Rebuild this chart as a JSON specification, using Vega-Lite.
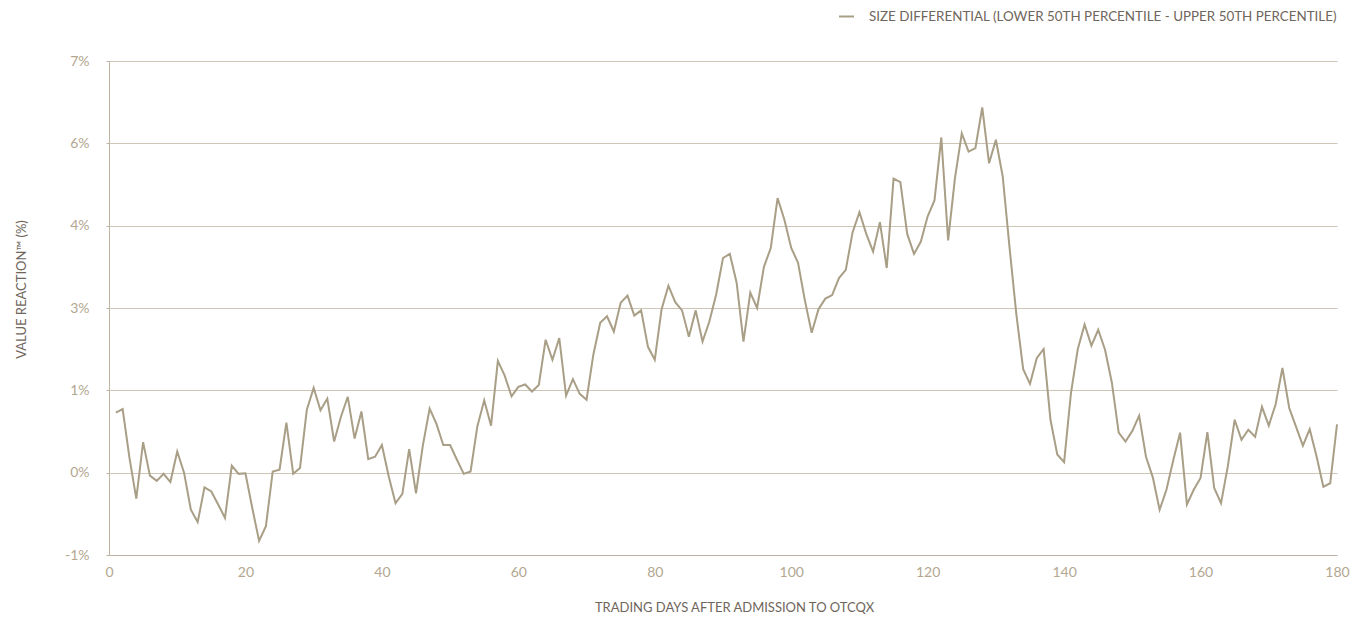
{
  "$schema": "https://vega.github.io/schema/vega-lite/v6.json",
  "width": 1228,
  "height": 494,
  "autosize": {"type": "none"},
  "padding": {"left": 109, "top": 61, "right": 22, "bottom": 64},
  "background": "#ffffff",
  "config": {
    "view": {"stroke": null},
    "font": "Lato",
    "axis": {
      "labelFont": "Lato",
      "titleFont": "Lato",
      "labelColor": "#b3a790",
      "titleColor": "#6f665c",
      "domainColor": "#bdb3a0",
      "gridColor": "#cdc5b5",
      "tickColor": "#bdb3a0",
      "titleFontWeight": "normal"
    }
  },
  "data": {
    "values": [
      {"day": 1, "v": 1.02}, {"day": 2, "v": 1.08}, {"day": 3, "v": 0.25}, {"day": 4, "v": -0.44}, {"day": 5, "v": 0.52},
      {"day": 6, "v": -0.05}, {"day": 7, "v": -0.14}, {"day": 8, "v": -0.02}, {"day": 9, "v": -0.16}, {"day": 10, "v": 0.36},
      {"day": 11, "v": 0.0}, {"day": 12, "v": -0.63}, {"day": 13, "v": -0.84}, {"day": 14, "v": -0.25}, {"day": 15, "v": -0.32},
      {"day": 16, "v": -0.54}, {"day": 17, "v": -0.77}, {"day": 18, "v": 0.12}, {"day": 19, "v": -0.02}, {"day": 20, "v": -0.01},
      {"day": 21, "v": -0.6}, {"day": 22, "v": -1.16}, {"day": 23, "v": -0.91}, {"day": 24, "v": 0.02}, {"day": 25, "v": 0.05},
      {"day": 26, "v": 0.85}, {"day": 27, "v": -0.02}, {"day": 28, "v": 0.08}, {"day": 29, "v": 1.07}, {"day": 30, "v": 1.44},
      {"day": 31, "v": 1.06}, {"day": 32, "v": 1.26}, {"day": 33, "v": 0.53}, {"day": 34, "v": 0.95}, {"day": 35, "v": 1.29},
      {"day": 36, "v": 0.58}, {"day": 37, "v": 1.04}, {"day": 38, "v": 0.23}, {"day": 39, "v": 0.27}, {"day": 40, "v": 0.47},
      {"day": 41, "v": -0.06}, {"day": 42, "v": -0.52}, {"day": 43, "v": -0.36}, {"day": 44, "v": 0.4}, {"day": 45, "v": -0.35},
      {"day": 46, "v": 0.46}, {"day": 47, "v": 1.09}, {"day": 48, "v": 0.83}, {"day": 49, "v": 0.47}, {"day": 50, "v": 0.47},
      {"day": 51, "v": 0.22}, {"day": 52, "v": -0.02}, {"day": 53, "v": 0.02}, {"day": 54, "v": 0.79}, {"day": 55, "v": 1.23},
      {"day": 56, "v": 0.8}, {"day": 57, "v": 1.9}, {"day": 58, "v": 1.65}, {"day": 59, "v": 1.3}, {"day": 60, "v": 1.46},
      {"day": 61, "v": 1.5}, {"day": 62, "v": 1.38}, {"day": 63, "v": 1.49}, {"day": 64, "v": 2.26}, {"day": 65, "v": 1.92},
      {"day": 66, "v": 2.29}, {"day": 67, "v": 1.31}, {"day": 68, "v": 1.59}, {"day": 69, "v": 1.34}, {"day": 70, "v": 1.24},
      {"day": 71, "v": 2.01}, {"day": 72, "v": 2.55}, {"day": 73, "v": 2.66}, {"day": 74, "v": 2.4}, {"day": 75, "v": 2.89},
      {"day": 76, "v": 3.01}, {"day": 77, "v": 2.67}, {"day": 78, "v": 2.76}, {"day": 79, "v": 2.14}, {"day": 80, "v": 1.92},
      {"day": 81, "v": 2.78}, {"day": 82, "v": 3.18}, {"day": 83, "v": 2.9}, {"day": 84, "v": 2.76}, {"day": 85, "v": 2.31},
      {"day": 86, "v": 2.76}, {"day": 87, "v": 2.23}, {"day": 88, "v": 2.57}, {"day": 89, "v": 3.03}, {"day": 90, "v": 3.65},
      {"day": 91, "v": 3.72}, {"day": 92, "v": 3.23}, {"day": 93, "v": 2.23}, {"day": 94, "v": 3.06}, {"day": 95, "v": 2.8},
      {"day": 96, "v": 3.5}, {"day": 97, "v": 3.82}, {"day": 98, "v": 4.67}, {"day": 99, "v": 4.3}, {"day": 100, "v": 3.82},
      {"day": 101, "v": 3.57}, {"day": 102, "v": 2.93}, {"day": 103, "v": 2.38}, {"day": 104, "v": 2.78}, {"day": 105, "v": 2.96},
      {"day": 106, "v": 3.02}, {"day": 107, "v": 3.31}, {"day": 108, "v": 3.45}, {"day": 109, "v": 4.09}, {"day": 110, "v": 4.43},
      {"day": 111, "v": 4.06}, {"day": 112, "v": 3.76}, {"day": 113, "v": 4.26}, {"day": 114, "v": 3.48}, {"day": 115, "v": 5.0},
      {"day": 116, "v": 4.94}, {"day": 117, "v": 4.06}, {"day": 118, "v": 3.72}, {"day": 119, "v": 3.93}, {"day": 120, "v": 4.36},
      {"day": 121, "v": 4.63}, {"day": 122, "v": 5.7}, {"day": 123, "v": 3.95}, {"day": 124, "v": 5.01}, {"day": 125, "v": 5.77},
      {"day": 126, "v": 5.46}, {"day": 127, "v": 5.52}, {"day": 128, "v": 6.21}, {"day": 129, "v": 5.26}, {"day": 130, "v": 5.66},
      {"day": 131, "v": 5.04}, {"day": 132, "v": 3.83}, {"day": 133, "v": 2.69}, {"day": 134, "v": 1.76}, {"day": 135, "v": 1.51},
      {"day": 136, "v": 1.95}, {"day": 137, "v": 2.1}, {"day": 138, "v": 0.9}, {"day": 139, "v": 0.31}, {"day": 140, "v": 0.18},
      {"day": 141, "v": 1.35}, {"day": 142, "v": 2.1}, {"day": 143, "v": 2.52}, {"day": 144, "v": 2.16}, {"day": 145, "v": 2.43},
      {"day": 146, "v": 2.09}, {"day": 147, "v": 1.53}, {"day": 148, "v": 0.68}, {"day": 149, "v": 0.53}, {"day": 150, "v": 0.71},
      {"day": 151, "v": 0.97}, {"day": 152, "v": 0.27}, {"day": 153, "v": -0.08}, {"day": 154, "v": -0.63}, {"day": 155, "v": -0.29},
      {"day": 156, "v": 0.21}, {"day": 157, "v": 0.68}, {"day": 158, "v": -0.54}, {"day": 159, "v": -0.29}, {"day": 160, "v": -0.09},
      {"day": 161, "v": 0.69}, {"day": 162, "v": -0.26}, {"day": 163, "v": -0.52}, {"day": 164, "v": 0.11}, {"day": 165, "v": 0.9},
      {"day": 166, "v": 0.56}, {"day": 167, "v": 0.73}, {"day": 168, "v": 0.61}, {"day": 169, "v": 1.12}, {"day": 170, "v": 0.8},
      {"day": 171, "v": 1.16}, {"day": 172, "v": 1.78}, {"day": 173, "v": 1.1}, {"day": 174, "v": 0.78}, {"day": 175, "v": 0.46},
      {"day": 176, "v": 0.74}, {"day": 177, "v": 0.28}, {"day": 178, "v": -0.24}, {"day": 179, "v": -0.18}, {"day": 180, "v": 0.82}
    ]
  },
  "mark": {"type": "line", "strokeWidth": 2, "strokeJoin": "miter", "interpolate": "linear"},
  "encoding": {
    "x": {
      "field": "day",
      "type": "quantitative",
      "scale": {"domain": [0, 180], "nice": false, "zero": false},
      "axis": {
        "title": "TRADING DAYS AFTER ADMISSION TO OTCQX",
        "values": [0, 20, 40, 60, 80, 100, 120, 140, 160, 180],
        "grid": false,
        "ticks": false,
        "labelFontSize": 14,
        "labelPadding": 10,
        "labelFlush": false,
        "titleFontSize": 13,
        "titleX": 625,
        "titleY": 52,
        "titleBaseline": "middle",
        "titleAlign": "center"
      }
    },
    "y": {
      "field": "v",
      "type": "quantitative",
      "scale": {"domain": [-1.4, 7], "nice": false, "zero": false},
      "axis": {
        "title": "VALUE REACTION™ (%)",
        "values": [-1.4, 0, 1.4, 2.8, 4.2, 5.6, 7],
        "labelExpr": "toString(round(datum.value)) + '%'",
        "grid": true,
        "tickSize": 3,
        "labelFontSize": 14,
        "labelPadding": 17,
        "titleFontSize": 13,
        "titleAngle": -90,
        "titleX": -88,
        "titleY": 228,
        "titleAlign": "center",
        "titleBaseline": "middle"
      }
    },
    "color": {
      "datum": "SIZE DIFFERENTIAL (LOWER 50TH PERCENTILE - UPPER 50TH PERCENTILE)",
      "scale": {"range": ["#a99e86"]},
      "legend": {
        "title": null,
        "orient": "none",
        "legendX": 729,
        "legendY": -53,
        "padding": 0,
        "symbolType": "stroke",
        "symbolSize": 225,
        "symbolStrokeWidth": 2,
        "labelOffset": 14,
        "labelFontSize": 13.4,
        "labelColor": "#6f665c",
        "labelLimit": 900
      }
    }
  }
}
